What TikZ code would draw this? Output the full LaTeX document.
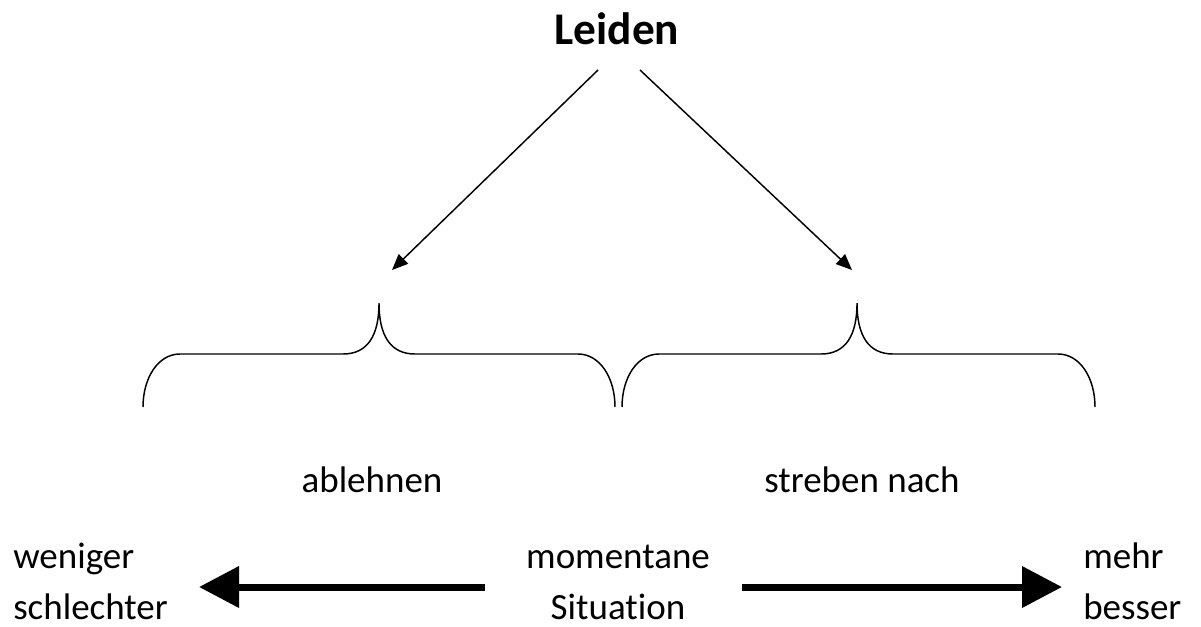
\documentclass[tikz,border=0pt]{standalone}
\usepackage{fontspec}
\setmainfont[Ligatures={NoCommon}]{Carlito}
\usetikzlibrary{arrows.meta}
\begin{document}
\begin{tikzpicture}[x=0.75pt,y=-0.75pt,
  lbl/.style={font=\fontsize{27.75}{39}\selectfont, inner sep=0pt, anchor=base},
  lblw/.style={lbl, anchor=base west},
  title/.style={font=\fontsize{34}{40}\selectfont\bfseries, inner sep=0pt, anchor=base},
  thinarrow/.style={line width=1.1pt, -{Triangle[length=12pt,width=10pt]}},
  bigarrow/.style={line width=5.25pt, -{Triangle[length=30pt,width=30pt]}},
  bracepath/.style={line width=1.1pt}]
\useasboundingbox (0,0) rectangle (1201,626);
\node[title] (L) at (617,44) {Leiden};
\coordinate (s1) at (598,70);
\coordinate (e1) at (392,270);
\coordinate (s2) at (640,70);
\coordinate (e2) at (852,270);
\draw[thinarrow] (s1) -- (e1);
\draw[thinarrow] (s2) -- (e2);
\draw[bracepath] (143,407) .. controls (143,378) and (158,354) .. (180,354) -- (343,354) .. controls (368,354) and (379,335) .. (379,303) .. controls (379,335) and (390,354) .. (415,354) -- (578,354) .. controls (600,354) and (615,378) .. (615,407);
\draw[bracepath] (622,407) .. controls (622,378) and (637,354) .. (659,354) -- (821,354) .. controls (846,354) and (857,335) .. (857,303) .. controls (857,335) and (868,354) .. (893,354) -- (1058,354) .. controls (1080,354) and (1095,378) .. (1095,407);
\node[lbl] (abl) at (372,492) {ablehnen};
\node[lbl] (str) at (862,492) {streben nach};
\node[lbl] (mom) at (618,568) {momentane};
\node[lbl] (sit) at (618,619) {Situation};
\node[lblw] (wen) at (13,568) {weniger};
\node[lblw] (sch) at (13,619) {schlechter};
\node[lblw] (meh) at (1083,568) {mehr};
\node[lblw] (bes) at (1083,619) {besser};
\coordinate (ls) at (485,587);
\coordinate (le) at (199,587);
\coordinate (rs) at (742,587);
\coordinate (re) at (1062,587);
\draw[bigarrow] (ls) -- (le);
\draw[bigarrow] (rs) -- (re);
\end{tikzpicture}
\end{document}
